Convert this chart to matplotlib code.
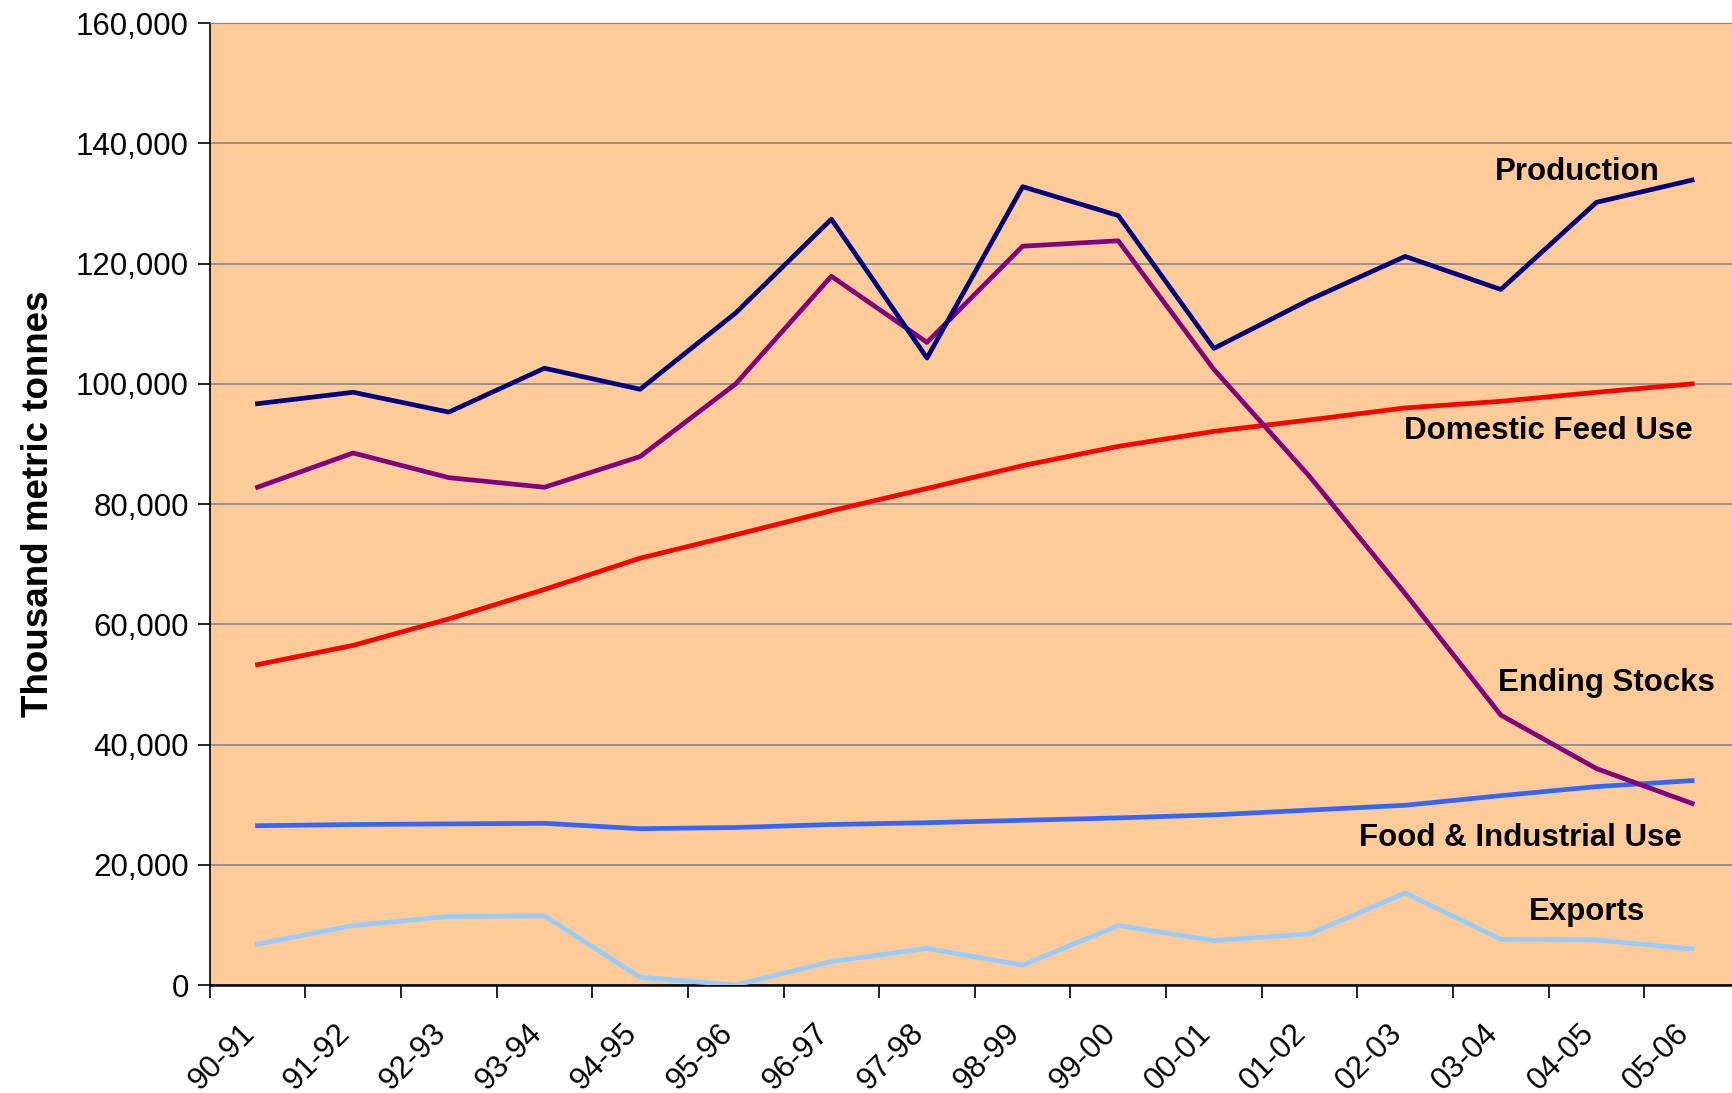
import matplotlib.pyplot as plt
import matplotlib.transforms as mtransforms
import numpy as np

seasons = ['90-91', '91-92', '92-93', '93-94', '94-95', '95-96', '96-97', '97-98',
           '98-99', '99-00', '00-01', '01-02', '02-03', '03-04', '04-05', '05-06']

production = [96700, 98600, 95300, 102600, 99100, 111800, 127400, 104300,
              132800, 128000, 105900, 114000, 121200, 115700, 130200, 133900]
ending_stocks = [82800, 88500, 84400, 82800, 87900, 100000, 117900, 106900,
                 122900, 123800, 102400, 84600, 65100, 44900, 36000, 30200]
feed_use = [53300, 56500, 60900, 65800, 71000, 74900, 78900, 82600,
            86400, 89600, 92100, 94000, 96000, 97100, 98600, 100000]
food_industrial = [26500, 26700, 26800, 26900, 26000, 26200, 26700, 27000,
                   27400, 27800, 28300, 29100, 29900, 31500, 33000, 34000]
exports = [6800, 9900, 11400, 11500, 1300, 0, 3900, 6100,
           3300, 9900, 7400, 8500, 15300, 7600, 7500, 6000]

plt.rcParams['font.family'] = ['Liberation Sans', 'DejaVu Sans']

fig = plt.figure(figsize=(17.33, 10.93), dpi=100)
ax = fig.add_axes([0.121, 0.0988, 0.883, 0.880])
ax.set_facecolor('#FFCC99')

x = np.arange(len(seasons))
lw = 3.4
ax.plot(x, exports, color='#99CCFF', lw=lw, zorder=3)
ax.plot(x, food_industrial, color='#3366FF', lw=lw, zorder=3)
ax.plot(x, feed_use, color='#FF0000', lw=lw, zorder=3)
ax.plot(x, ending_stocks, color='#800080', lw=lw, zorder=4)
ax.plot(x, production, color='#000080', lw=lw, zorder=5)

lab = dict(fontsize=22.5, fontweight='bold', ha='center', va='center', zorder=6)
ax.text(13.8, 135200, 'Production', **lab)
ax.text(13.5, 92100, 'Domestic Feed Use', **lab)
ax.text(14.1, 50200, 'Ending Stocks', **lab)
ax.text(13.2, 24500, 'Food & Industrial Use', **lab)
ax.text(13.9, 12100, 'Exports', **lab)

ax.set_xlim(-0.5, len(seasons) - 0.5)
ax.set_ylim(0, 160000)
ax.set_yticks(np.arange(0, 160001, 20000))
ax.set_yticklabels([f'{v:,}' for v in range(0, 160001, 20000)])
ax.grid(axis='y', color='#888888', lw=1.2, zorder=1)
ax.set_axisbelow(True)

ax.set_xticks(np.arange(-0.5, len(seasons), 1.0))
ax.set_xticklabels([])
ax.set_xticks(x, minor=True)
ax.set_xticklabels(seasons, minor=True, rotation=45, ha='right',
                   rotation_mode='anchor', fontsize=22.5)
ax.tick_params(axis='x', which='major', length=9, width=1.2, direction='out')
ax.tick_params(axis='x', which='minor', length=0, pad=24)
ax.tick_params(axis='y', length=9, width=1.2, labelsize=22.5, pad=6)

# nudge rotated season labels left so their ends sit under the category centre
shift = mtransforms.ScaledTranslation(-0.18, 0, fig.dpi_scale_trans)
for t in ax.get_xticklabels(minor=True):
    t.set_transform(t.get_transform() + shift)

ax.set_ylabel('Thousand metric tonnes', fontsize=26.5, fontweight='bold', labelpad=14)

ax.spines['right'].set_visible(False)
ax.spines['top'].set_color('#888888')
ax.spines['left'].set_linewidth(1.2)
ax.spines['bottom'].set_linewidth(1.8)

fig.savefig('out.png', dpi=100)
